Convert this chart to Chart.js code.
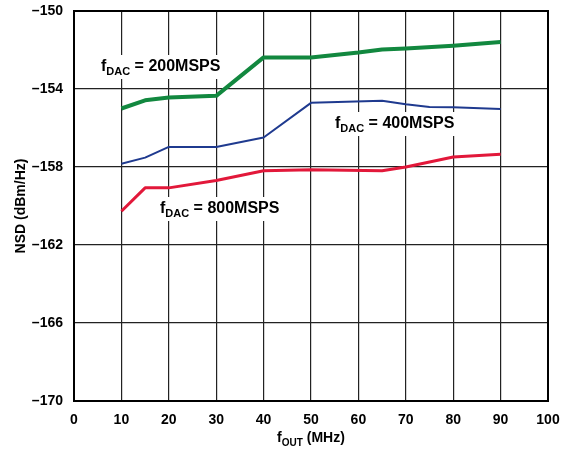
<!DOCTYPE html>
<html>
<head>
<meta charset="utf-8">
<script src="https://cdn.jsdelivr.net/npm/chart.js@4/dist/chart.umd.min.js"></script>
<style>
  html, body { margin: 0; padding: 0; background: #fff; }
  #wrap { width: 572px; height: 461px; }
</style>
</head>
<body>
<div id="wrap"><canvas id="nsdChart" width="572" height="461"></canvas></div>
<script>
// values (MHz, dBm/Hz)
const fout200 = [10, 15, 20, 30, 40, 50, 60, 65, 70, 80, 90];
const nsd200  = [-155.0, -154.58, -154.44, -154.35, -152.38, -152.38, -152.13, -151.97, -151.92, -151.78, -151.59];

const fout400 = [10, 15, 20, 30, 40, 50, 65, 70, 75, 80, 90];
const nsd400  = [-157.83, -157.52, -156.97, -156.97, -156.49, -154.71, -154.6, -154.78, -154.92, -154.94, -155.02];

const fout800 = [10, 15, 20, 30, 40, 50, 65, 70, 80, 90];
const nsd800  = [-160.27, -159.07, -159.07, -158.69, -158.19, -158.14, -158.19, -158.0, -157.49, -157.35];

const xTicks = [0, 10, 20, 30, 40, 50, 60, 70, 80, 90, 100];
const yTicks = [-170, -166, -162, -158, -154, -150];

const labels = [
  { main: 'f', sub: 'DAC', rest: ' = 200MSPS', x: 101, y: 71 },
  { main: 'f', sub: 'DAC', rest: ' = 400MSPS', x: 335, y: 128 },
  { main: 'f', sub: 'DAC', rest: ' = 800MSPS', x: 160, y: 213 }
];

const FONT = '"Liberation Sans", Arial, sans-serif';

function pts(xs, ys) { return xs.map((x, i) => ({ x, y: ys[i] })); }

// text with a subscript, optional white box behind it
function subText(ctx, x, y, main, sub, rest, size, subSize, box) {
  ctx.font = `bold ${size}px ${FONT}`;
  const w1 = ctx.measureText(main).width;
  const w3 = ctx.measureText(rest).width;
  ctx.font = `bold ${subSize}px ${FONT}`;
  const w2 = ctx.measureText(sub).width;
  if (box) {
    ctx.fillStyle = '#fff';
    ctx.fillRect(x - 3, y - size, w1 + w2 + w3 + 6, size + 8);
  }
  ctx.fillStyle = '#000';
  ctx.textBaseline = 'alphabetic';
  ctx.textAlign = 'left';
  ctx.font = `bold ${size}px ${FONT}`;
  ctx.fillText(main, x, y);
  ctx.font = `bold ${subSize}px ${FONT}`;
  ctx.fillText(sub, x + w1, y + 4);
  ctx.font = `bold ${size}px ${FONT}`;
  ctx.fillText(rest, x + w1 + w2, y);
}

const textPlugin = {
  id: 'texts',
  beforeDatasetsDraw(chart) {
    const ctx = chart.ctx, a = chart.chartArea;
    ctx.save();
    // frame
    ctx.strokeStyle = '#000';
    ctx.lineWidth = 2;
    ctx.strokeRect(a.left, a.top, a.right - a.left, a.bottom - a.top);
    // series labels on white boxes
    labels.forEach(l => subText(ctx, l.x, l.y, l.main, l.sub, l.rest, 16, 11, true));
    ctx.restore();
  },
  afterDraw(chart) {
    const ctx = chart.ctx, a = chart.chartArea;
    ctx.save();
    // x title
    ctx.font = `bold 14px ${FONT}`;
    const wf = ctx.measureText('f').width, wr = ctx.measureText(' (MHz)').width;
    ctx.font = `bold 10px ${FONT}`;
    const ws = ctx.measureText('OUT').width;
    const cx = (a.left + a.right) / 2;
    subText(ctx, cx - (wf + ws + wr) / 2, 442, 'f', 'OUT', ' (MHz)', 14, 10, false);
    // y title
    ctx.translate(21, (a.top + a.bottom) / 2);
    ctx.rotate(-Math.PI / 2);
    ctx.font = `bold 14px ${FONT}`;
    ctx.textAlign = 'center';
    ctx.textBaseline = 'middle';
    ctx.fillStyle = '#000';
    ctx.fillText('NSD (dBm/Hz)', 0, 0);
    ctx.restore();
  }
};

const ctx = document.getElementById('nsdChart').getContext('2d');
new Chart(ctx, {
  type: 'line',
  data: {
    datasets: [
      { data: pts(fout200, nsd200), borderColor: '#12883f', borderWidth: 4 },
      { data: pts(fout400, nsd400), borderColor: '#1f3a8f', borderWidth: 2 },
      { data: pts(fout800, nsd800), borderColor: '#e2183a', borderWidth: 3 }
    ]
  },
  options: {
    responsive: false,
    animation: false,
    layout: { padding: { left: 0, right: 24, top: 11, bottom: 0 } },
    elements: { point: { radius: 0 }, line: { tension: 0, borderJoinStyle: 'round' } },
    plugins: { legend: { display: false }, tooltip: { enabled: false } },
    scales: {
      x: {
        type: 'linear', min: 0, max: 100,
        afterBuildTicks: s => { s.ticks = xTicks.map(v => ({ value: v })); },
        afterFit: s => { s.height = 60; s.paddingLeft = 0; s.paddingRight = 0; },
        grid: { color: '#222', lineWidth: 1.2, drawTicks: false },
        border: { display: false },
        ticks: { color: '#000', font: { family: FONT, size: 14, weight: 'bold' }, padding: 11, maxRotation: 0 }
      },
      y: {
        type: 'linear', min: -170, max: -150,
        afterBuildTicks: s => { s.ticks = yTicks.map(v => ({ value: v })); },
        afterFit: s => { s.width = 74; s.paddingTop = 0; s.paddingBottom = 0; },
        grid: { color: '#222', lineWidth: 1.2, drawTicks: false },
        border: { display: false },
        ticks: {
          color: '#000', font: { family: FONT, size: 14, weight: 'bold' }, padding: 11,
          callback: v => String(v).replace('-', '\u2013')
        }
      }
    }
  },
  plugins: [textPlugin]
});
</script>
</body>
</html>
